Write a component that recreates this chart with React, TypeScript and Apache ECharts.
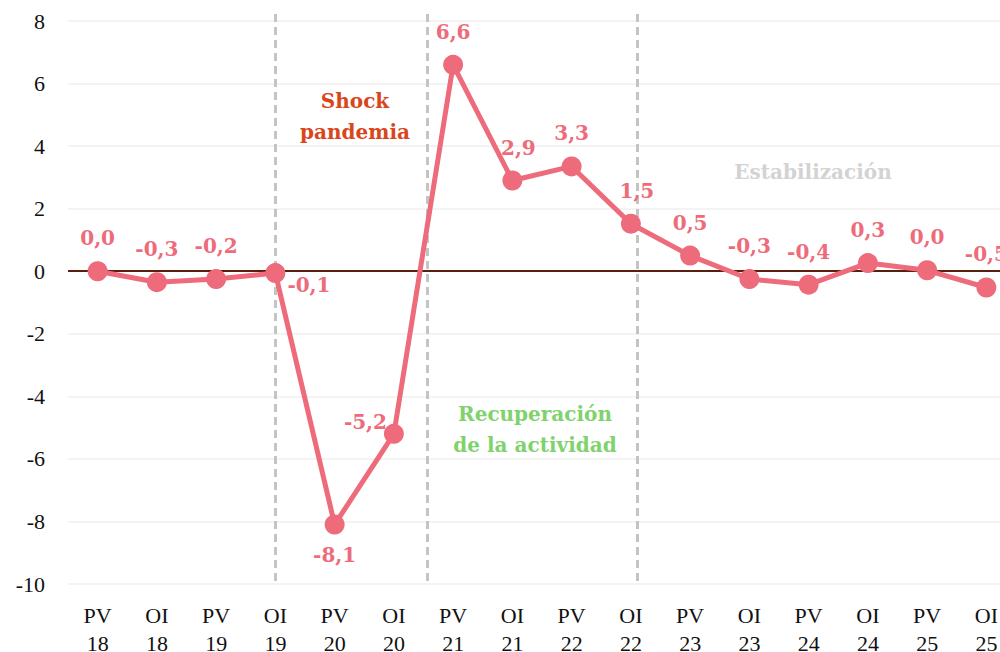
import React, { useEffect, useRef } from "react";
import * as echarts from "echarts";

const categories = ["PV\n18", "OI\n18", "PV\n19", "OI\n19", "PV\n20", "OI\n20", "PV\n21", "OI\n21", "PV\n22", "OI\n22", "PV\n23", "OI\n23", "PV\n24", "OI\n24", "PV\n25", "OI\n25"];
const values = [0.0, -0.35, -0.25, -0.06, -8.1, -5.2, 6.6, 2.9, 3.35, 1.52, 0.5, -0.25, -0.43, 0.26, 0.03, -0.52];
const labels = ["0,0", "-0,3", "-0,2", "-0,1", "-8,1", "-5,2", "6,6", "2,9", "3,3", "1,5", "0,5", "-0,3", "-0,4", "0,3", "0,0", "-0,5"];
const labelPositions = ["top", "top", "top", "right", "bottom", "topLeft", "top", "topShift", "top", "topShift", "top", "top", "top", "top", "top", "top"];
const yTicks = { min: -10, max: 8, interval: 2 };

const LINE = "#ed6b7a";
const SLAB = "'DejaVu Serif', serif";
const SERIF = "'Liberation Serif', 'Times New Roman', serif";

export default function App() {
  const ref = useRef<HTMLDivElement>(null);
  useEffect(() => {
    if (!ref.current) return;
    const chart = echarts.init(ref.current, null, { renderer: "svg" });
    const data = values.map((v, i) => {
      const pos = labelPositions[i];
      const label: any = { formatter: labels[i] };
      if (pos === "right") {
        label.position = [22, 12];
      } else if (pos === "bottom") {
        label.position = "bottom";
        label.distance = 10;
      } else if (pos === "topLeft") {
        label.position = [-40, -12];
      } else if (pos === "topShift") {
        label.position = "top";
        label.offset = [6, 0];
      } else {
        label.position = "top";
      }
      return { value: v, label };
    });
    const dash = (x: number) => ({
      type: "line",
      shape: { x1: x, y1: 14, x2: x, y2: 583 },
      style: { stroke: "#c4c4c4", lineWidth: 3, lineDash: [8, 5] },
      z: 1,
    });
    const txt = (x: number, y: number, text: string, color: string) => ({
      type: "text",
      x,
      y,
      style: {
        text,
        fill: color,
        font: `bold 20px ${SLAB}`,
        align: "center",
        verticalAlign: "middle",
        lineHeight: 31,
      },
      z: 5,
    });
    chart.setOption({
      animation: false,
      backgroundColor: "#ffffff",
      grid: { left: 68, width: 948, top: 21, bottom: 68, containLabel: false, outerBoundsMode: "none" },
      xAxis: {
        type: "category",
        data: categories,
        boundaryGap: true,
        axisLine: { show: false },
        axisTick: { show: false },
        axisLabel: {
          color: "#111",
          fontFamily: SERIF,
          fontSize: 22,
          lineHeight: 28,
          margin: 17,
          interval: 0,
        },
      },
      yAxis: {
        type: "value",
        min: yTicks.min,
        max: yTicks.max,
        interval: yTicks.interval,
        axisLine: { show: false },
        axisTick: { show: false },
        splitLine: { lineStyle: { color: "#efefef", width: 1.5 } },
        axisLabel: {
          color: "#111",
          fontFamily: SERIF,
          fontSize: 22,
          margin: 23,
        },
      },
      graphic: [
        dash(275.5),
        dash(427.5),
        dash(637.5),
        txt(355, 116, "Shock\npandemia", "#d9461b"),
        txt(535, 429, "Recuperación\nde la actividad", "#80d26d"),
        txt(813, 172, "Estabilización", "#d3d3d3"),
      ],
      series: [
        {
          type: "line",
          data,
          z: 3,
          lineStyle: { color: LINE, width: 5 },
          itemStyle: { color: LINE },
          symbol: "circle",
          symbolSize: 20,
          label: {
            show: true,
            color: LINE,
            fontFamily: SLAB,
            fontWeight: "bold",
            fontSize: 20,
            distance: 13,
          },
          markLine: {
            silent: true,
            symbol: "none",
            label: { show: false },
            lineStyle: { color: "#5a1e0e", width: 2, type: "solid" },
            data: [{ yAxis: 0 }],
            z: 2,
          },
        },
      ],
    });
    return () => chart.dispose();
  }, []);
  return <div ref={ref} style={{ width: 1000, height: 652, position: "absolute", left: 0, top: 0 }} />;
}
